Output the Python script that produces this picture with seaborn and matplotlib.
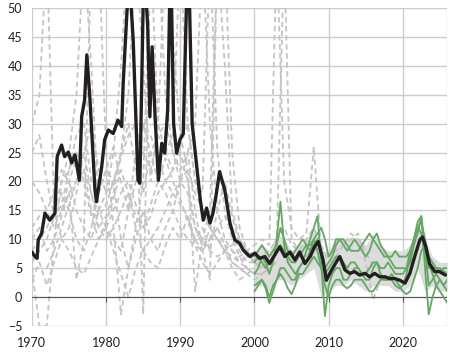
import numpy as np
import pandas as pd
import matplotlib
matplotlib.use("Agg")
import matplotlib.pyplot as plt
import seaborn as sns

# Linha preta (mediana)
black_year = [1970.0, 1970.4, 1970.7, 1970.85, 1971.3, 1971.75, 1972.4, 1973.1, 1973.4, 1974.0,
              1974.4, 1974.9, 1975.35, 1975.8, 1976.4, 1976.7, 1977.1, 1977.4, 1977.8, 1978.5,
              1978.7, 1979.4, 1979.8, 1980.3, 1980.95, 1981.6, 1982.1, 1982.3, 1982.75, 1983.1,
              1983.65, 1984.3, 1984.55, 1985.1, 1985.6, 1985.9, 1986.2, 1986.6, 1987.05, 1987.5,
              1987.9, 1988.3, 1988.7, 1989.1, 1989.5, 1989.95, 1990.4, 1991.05, 1991.6, 1992.1,
              1992.7, 1993.1, 1993.55, 1994.0, 1994.4, 1994.8, 1995.3, 1996.0, 1996.7, 1997.35,
              1998.0, 1998.5, 1999.4, 2000.05, 2000.7, 2001.4, 2002.05, 2002.75, 2003.4, 2004.1,
              2004.8, 2005.45, 2006.1, 2006.8, 2007.5, 2008.1, 2008.6, 2009.25, 2009.7, 2010.4,
              2011.05, 2011.5, 2012.2, 2012.85, 2013.5, 2014.2, 2014.9, 2015.55, 2016.2, 2016.9,
              2017.6, 2018.25, 2018.9, 2019.6, 2020.3, 2020.95, 2021.6, 2022.3, 2022.65, 2023.1,
              2023.6, 2024.3, 2024.95, 2025.75]
black_value = [7.8, 7.0, 6.7, 9.9, 11.0, 14.5, 13.3, 14.5, 24.3, 26.3,
               24.3, 25.1, 23.2, 24.6, 20.2, 31.2, 34.1, 41.9, 34.7, 18.5,
               16.5, 22.5, 27.2, 28.9, 28.3, 30.6, 29.5, 37.0, 47.9, 56.0,
               44.5, 20.2, 19.7, 58.0, 47.0, 31.2, 43.3, 31.2, 20.2, 26.6,
               24.9, 32.4, 60.0, 30.0, 24.9, 27.2, 28.3, 62.0, 30.0, 24.0,
               16.8, 13.3, 15.4, 12.8, 14.5, 17.4, 21.7, 18.5, 12.8, 9.9,
               9.3, 8.1, 7.0, 7.6, 6.7, 7.0, 5.8, 7.3, 8.7, 7.0,
               7.8, 6.4, 7.8, 5.8, 7.0, 8.7, 9.6, 6.4, 2.9, 4.7,
               6.1, 7.0, 4.7, 4.1, 4.4, 3.8, 4.1, 3.5, 4.1, 3.5,
               3.5, 3.2, 3.2, 2.9, 2.4, 4.1, 7.0, 9.9, 10.4, 8.7,
               5.8, 4.4, 4.4, 3.8]

# Series cinzentas tracejadas (anuais; ano inicial em gray_start)
gray_a = [30, 35, 60, 15, 10, 12, 18, 25, 30, 22, 18, 20, 25, 30, 22, 18, 25, 28, 30, 25,
          20, 18, 12, 10, 8, 7, 8, 9, 10, 8, 6, 5]
gray_b = [5, -5, -5, 10, 20, 25, 35, 60, 40, 15, 12, 10, 8, 15, 20, 30, 25, 20, 18, 15,
          12, 10, 9, 8, 10, 12, 9, 6, 5, 4, 3, 4, 5]
gray_c = [10, 12, 8, 10, 14, 18, 3, 10, 60, 60, 25, 12, -3, 5, 10, 15, 10, 8, 12, 15,
          20, 25, 30, 60, 30, 15, 10, 8, 6, 5, 4, 4, 5, 6]
gray_d = [12, 14, 15, 18, 22, 20, 15, 12, 10, 15, 18, 25, 40, 60, 35, -3, 60, 30, 25, 28,
          60, 30, 20, 15, 12, 10, 8, 7, 6, 7, 8]
gray_e = [8, 10, 12, 15, 20, 22, 25, 22, 15, 12, 14, 18, 25, 35, 60, 40, 20, 30, 60, 45,
          28, 22, 1, 10, 15, 60, 40, 15, 10, 8, 6, 5, 7, 9, 8]
gray_f = [6, 8, 10, 14, 18, 15, 10, 8, 12, 18, 22, 20, 10, 5, 12, 20, 60, 60, 35, 25,
          22, 25, 15, 8, 3, 60, 60, 25, 12, 8, 6, 5, 6, 8]
gray_g = [20, 18, 15, 12, 15, 18, 20, 22, 18, 12, 10, 12, 15, 18, 12, 8, 10, 12, 15, 18,
          20, 22, 18, 15, 12, 10, 9, 8, 7, 8, 9, 10, 9, 60, 20, 12, 10, 11, 26, 8,
          7, 8, 9, 10, 11, 6, -0.5, 3]
gray_h = [25, 28, 20, 14, 16, 22, 28, 30, 20, 18, 22, 26, 20, 15, 25, 30, 28, 24, 20, 18,
          16, 14, 10, 12, 8, 15, 20, 14, 9, 7, 6, 6, 7, 9, 60, 10, 8, 7, 9, 5,
          4, 5, 6]
gray_i = [5, 8, 12, 16, 20, 25, 18, 14, 16, 20, 24, 28, 30, 25, 22, 28, 25, 22, 26, 30,
          20, 18, 60, 25, 15, 10, 7, 5, 4, 4, 5, 6]
gray_j = [15, 20, 24, 20, 14, 10, 13, 17, 22, 18, 14, 12, 16, 20, 24, 20, 17, 13, 10, 8,
          12, 10, 8, 6, 5, 4]
gray_k = [3, 6, 2, 6, 10, 8, 5, 4, 7, 10, 12, 8, 4, 0, 5, 8, 6, 5, 9, 12,
          10, 14, 9, 6, 4, 6, 8, 5, 3, 4, 5]
gray_l = [12, 15, 18, 20, 16, 12, 14, 18, 20, 22, 25, 20, 12, 9, 10, 12, 14, 11, 8, 6,
          6, 7, 8, 10, 12, 9, 8, 10, 12, 9, 6, 7, 9, 11, 10, 8, 5]
gray_series = [gray_a, gray_b, gray_c, gray_d, gray_e, gray_f, gray_g, gray_h, gray_i,
               gray_j, gray_k, gray_l]
gray_start = [1970, 1970, 1970, 1970, 1970, 1970, 1970, 1970, 1972, 1974, 1970, 1980]

# Series verdes (semestrais, 2000-2026)
green_years = np.arange(2000, 2026.01, 0.5)
green_1 = [4, 5, 7, 6, 4, 6, 10, 16.5, 9, 6, 5, 4, 5, 6, 6, 8, 10, 8, 5, 4,
           5, 6, 7, 7, 6, 5, 6, 6, 5, 4, 3, 3, 5, 6, 5, 5, 6, 5, 4, 4,
           4, 5, 8, 10, 12, 11, 7, 5, 5, 5, 4.5, 5, 5]
green_2 = [2, 2.5, 3, 1.5, -1, 1, 3, 5, 5, 4, 3, 3, 5, 6, 8, 10, 12, 14, 6, -3.3,
           2, 4, 5, 5, 3, 3, 4, 5, 5, 4, 4, 5, 6, 6, 4, 3, 3, 3, 2, 1.5,
           2, 4, 7, 10, 13, 14, 8, 2, 3, 4, 3, 2, 1]
green_3 = [6, 7, 6, 5, 6, 7, 8, 9, 8, 7, 6, 6, 7, 8, 9, 8, 9, 10, 7, 5,
           6, 7, 9, 10, 9, 8, 9, 10, 9, 8, 7, 8, 10, 11, 9, 8, 7, 6, 5, 5,
           5, 5, 6, 9, 11, 14, 5, -3, 0, 2, 3, 2, 3]
green_4 = [1, 2, 3, 2, 0, 2, 3, 4, 3, 1.5, 0.5, 2, 4, 4, 5, 6, 7, 6, 5, 2,
           0, 2, 3, 3, 2, 1.5, 2, 3, 3, 3, 2, 1, 1, 2, 3, 3, 3, 4, 3, 2,
           1, 0.5, 1, 3, 5, 8, 9, 6, 4, 2, 1, 0, -1]
green_5 = [7, 8, 9, 8, 7, 8, 9, 12, 10, 8, 7, 8, 9, 10, 9, 9, 10, 11, 12, 10,
           7, 8, 10, 10, 10, 9, 8, 8, 8, 9, 10, 11, 10, 9, 8, 7, 7, 7, 8, 7,
           7, 7, 8, 10, 12, 13, 10, 7, 6, 5, 5, 4.5, 4]

# Faixa cinza (2000-2026)
band_years = list(range(2000, 2027))
band_low = [2, 2, 1, 3, 3, 2, 3, 4, 5, 0, 1, 2, 2, 3, 2, 1, 2, 2, 2, 1, 1, 2, 5, 1, 2, 1, 1]
band_high = [8, 9, 8, 11, 10, 8, 9, 10, 12, 8, 8, 10, 10, 10, 10, 9, 11, 9, 8, 8, 8, 9, 13, 10, 7, 6, 6]

# Montar tabelas longas
linhas = []
for n, (vals, inicio) in enumerate(zip(gray_series, gray_start)):
    for k, v in enumerate(vals):
        linhas.append({"serie": n, "ano": inicio + k, "valor": v})
df_gray = pd.DataFrame(linhas)

linhas = []
for n, vals in enumerate([green_1, green_2, green_3, green_4, green_5]):
    for ano, v in zip(green_years, vals):
        linhas.append({"serie": n, "ano": ano, "valor": v})
df_green = pd.DataFrame(linhas)

df_black = pd.DataFrame({"ano": black_year, "valor": black_value})

sns.set_style("white")
plt.rcParams["font.family"] = ["Lato", "DejaVu Sans"]

fig = plt.figure(figsize=(4.5, 3.52), dpi=100)
ax = fig.add_axes([0.071, 0.074, 0.923, 0.903])

ax.fill_between(band_years, band_low, band_high, color="#dcdcdc", lw=0, zorder=1)
sns.lineplot(data=df_gray, x="ano", y="valor", units="serie", estimator=None, color="#c4c4c4",
             linestyle=(0, (3, 2)), lw=1.3, ax=ax, zorder=2)
sns.lineplot(data=df_green, x="ano", y="valor", units="serie", estimator=None, color="#62a862",
             lw=1.3, ax=ax, zorder=3)
sns.lineplot(data=df_black, x="ano", y="valor", color="#231f20", lw=2.4, ax=ax, zorder=4)

ax.set_xlim(1970, 2026)
ax.set_ylim(-5, 50)
ax.set_xticks(range(1970, 2021, 10))
ax.set_yticks(range(-5, 51, 5))
ax.grid(True, color="#cccccc", lw=1)
ax.axhline(0, color="#555555", lw=0.8, zorder=2.5)
ax.vlines(range(1980, 2021, 10), -0.8, 0, color="#555555", lw=0.8, zorder=2.5)
for s in ax.spines.values():
    s.set_visible(False)
ax.axvline(2026, color="#cccccc", lw=1)
ax.tick_params(length=0, labelsize=9, colors="#231f20")
ax.tick_params(axis="y", pad=7)
ax.tick_params(axis="x", pad=8)
ax.set_xlabel("")
ax.set_ylabel("")

plt.savefig("out.png", dpi=100)
plt.close()
